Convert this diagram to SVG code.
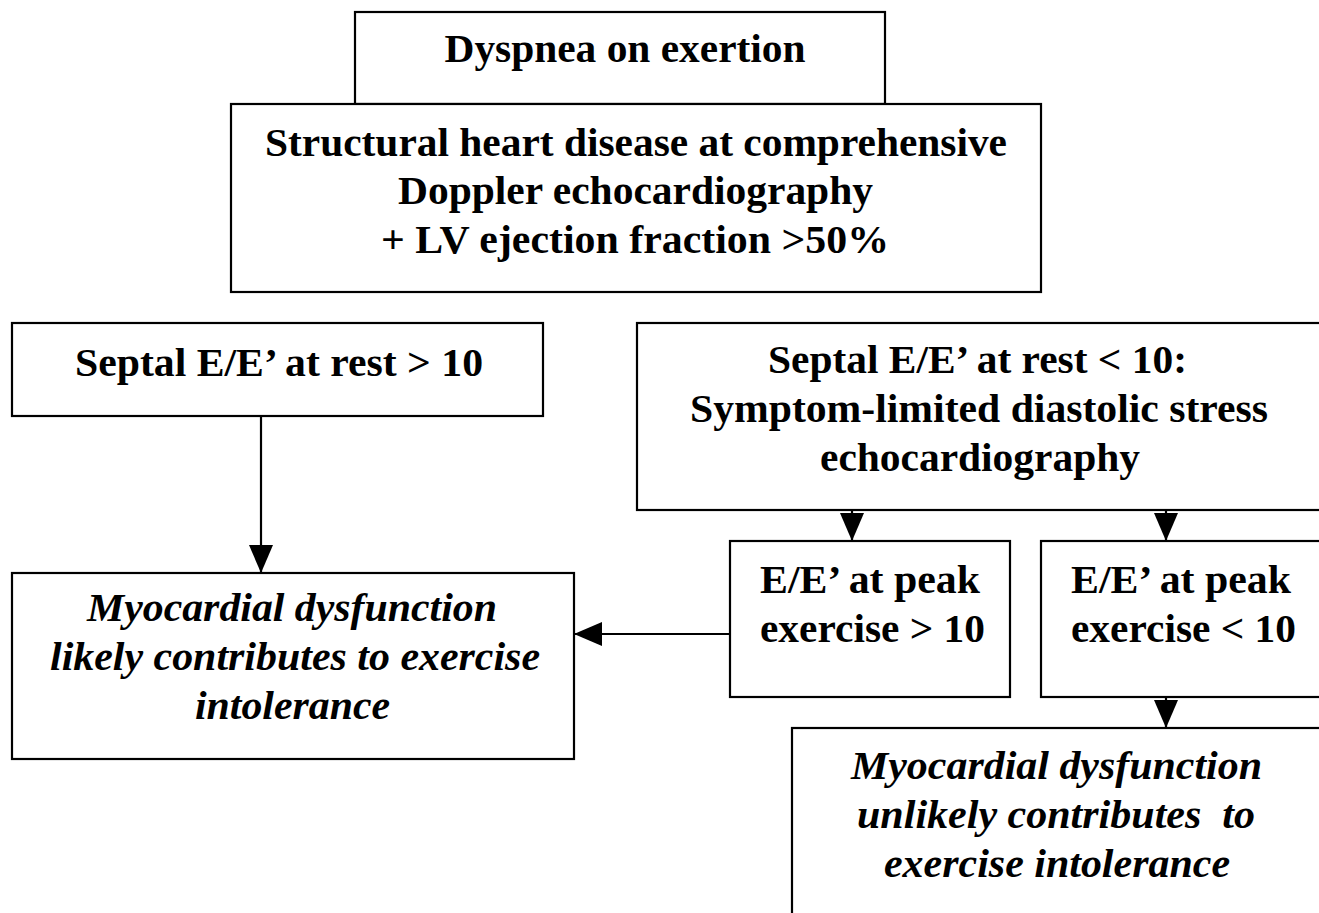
<svg xmlns="http://www.w3.org/2000/svg" width="1319" height="913" viewBox="0 0 1319 913">
<style>
.box{fill:#fff;stroke:#000;stroke-width:2.2}
.t{font-family:"Liberation Serif","Times New Roman",serif;font-size:40px;font-weight:bold;fill:#000;text-anchor:middle;white-space:pre}
.i{font-style:italic}
.c{stroke:#000;stroke-width:2.2;fill:none}
</style>
<defs>
<marker id="ah" markerUnits="userSpaceOnUse" markerWidth="28" markerHeight="24" refX="28" refY="12" orient="auto">
<path d="M0,0 L28,12 L0,24 z" fill="#000"/>
</marker>
</defs>
<rect width="1319" height="913" fill="#fff"/>
<g id="n-dyspnea">
<rect class="box" x="355" y="12" width="530" height="92"/>
<text class="t" x="625" y="62" textLength="361" lengthAdjust="spacingAndGlyphs">Dyspnea on exertion</text>
</g>
<g id="n-structural">
<rect class="box" x="231" y="104" width="810" height="188"/>
<text class="t" x="636" y="156" textLength="742" lengthAdjust="spacingAndGlyphs">Structural heart disease at comprehensive</text>
<text class="t" x="635.5" y="204" textLength="475" lengthAdjust="spacingAndGlyphs">Doppler echocardiography</text>
<text class="t" x="635" y="253" textLength="508" lengthAdjust="spacingAndGlyphs">+ LV ejection fraction &gt;50%</text>
</g>
<g id="n-rest-high">
<rect class="box" x="12" y="323" width="531" height="93"/>
<text class="t" x="279" y="376" textLength="408" lengthAdjust="spacingAndGlyphs">Septal E/E’ at rest &gt; 10</text>
</g>
<g id="n-rest-low">
<rect class="box" x="637" y="323" width="690" height="187"/>
<text class="t" x="977.5" y="373" textLength="419" lengthAdjust="spacingAndGlyphs">Septal E/E’ at rest &lt; 10:</text>
<text class="t" x="979" y="422" textLength="578" lengthAdjust="spacingAndGlyphs">Symptom-limited diastolic stress</text>
<text class="t" x="980" y="471" textLength="320" lengthAdjust="spacingAndGlyphs">echocardiography</text>
</g>
<g id="n-peak-high">
<rect class="box" x="730" y="541" width="280" height="156"/>
<text class="t" x="870" y="593" textLength="220" lengthAdjust="spacingAndGlyphs">E/E’ at peak</text>
<text class="t" x="872.5" y="642" textLength="225" lengthAdjust="spacingAndGlyphs">exercise &gt; 10</text>
</g>
<g id="n-peak-low">
<rect class="box" x="1041" y="541" width="290" height="156"/>
<text class="t" x="1181" y="593" textLength="220" lengthAdjust="spacingAndGlyphs">E/E’ at peak</text>
<text class="t" x="1183.5" y="642" textLength="225" lengthAdjust="spacingAndGlyphs">exercise &lt; 10</text>
</g>
<g id="n-likely">
<rect class="box" x="12" y="573" width="562" height="186"/>
<text class="t i" x="292" y="621" textLength="410" lengthAdjust="spacingAndGlyphs">Myocardial dysfunction</text>
<text class="t i" x="295" y="670" textLength="490" lengthAdjust="spacingAndGlyphs">likely contributes to exercise</text>
<text class="t i" x="292.5" y="719" textLength="195" lengthAdjust="spacingAndGlyphs">intolerance</text>
</g>
<g id="n-unlikely">
<rect class="box" x="792" y="728" width="540" height="200"/>
<text class="t i" x="1056.5" y="779" textLength="411" lengthAdjust="spacingAndGlyphs">Myocardial dysfunction</text>
<text class="t i" x="1056" y="828" textLength="398" lengthAdjust="spacingAndGlyphs" xml:space="preserve">unlikely contributes  to</text>
<text class="t i" x="1057" y="877" textLength="346" lengthAdjust="spacingAndGlyphs">exercise intolerance</text>
</g>
<g id="connectors">
<line class="c" x1="261" y1="416" x2="261" y2="573" marker-end="url(#ah)"/>
<line class="c" x1="852" y1="510" x2="852" y2="541" marker-end="url(#ah)"/>
<line class="c" x1="1166" y1="510" x2="1166" y2="541" marker-end="url(#ah)"/>
<line class="c" x1="1166" y1="697" x2="1166" y2="728" marker-end="url(#ah)"/>
<line class="c" x1="730" y1="634" x2="574" y2="634" marker-end="url(#ah)"/>
</g>
</svg>
